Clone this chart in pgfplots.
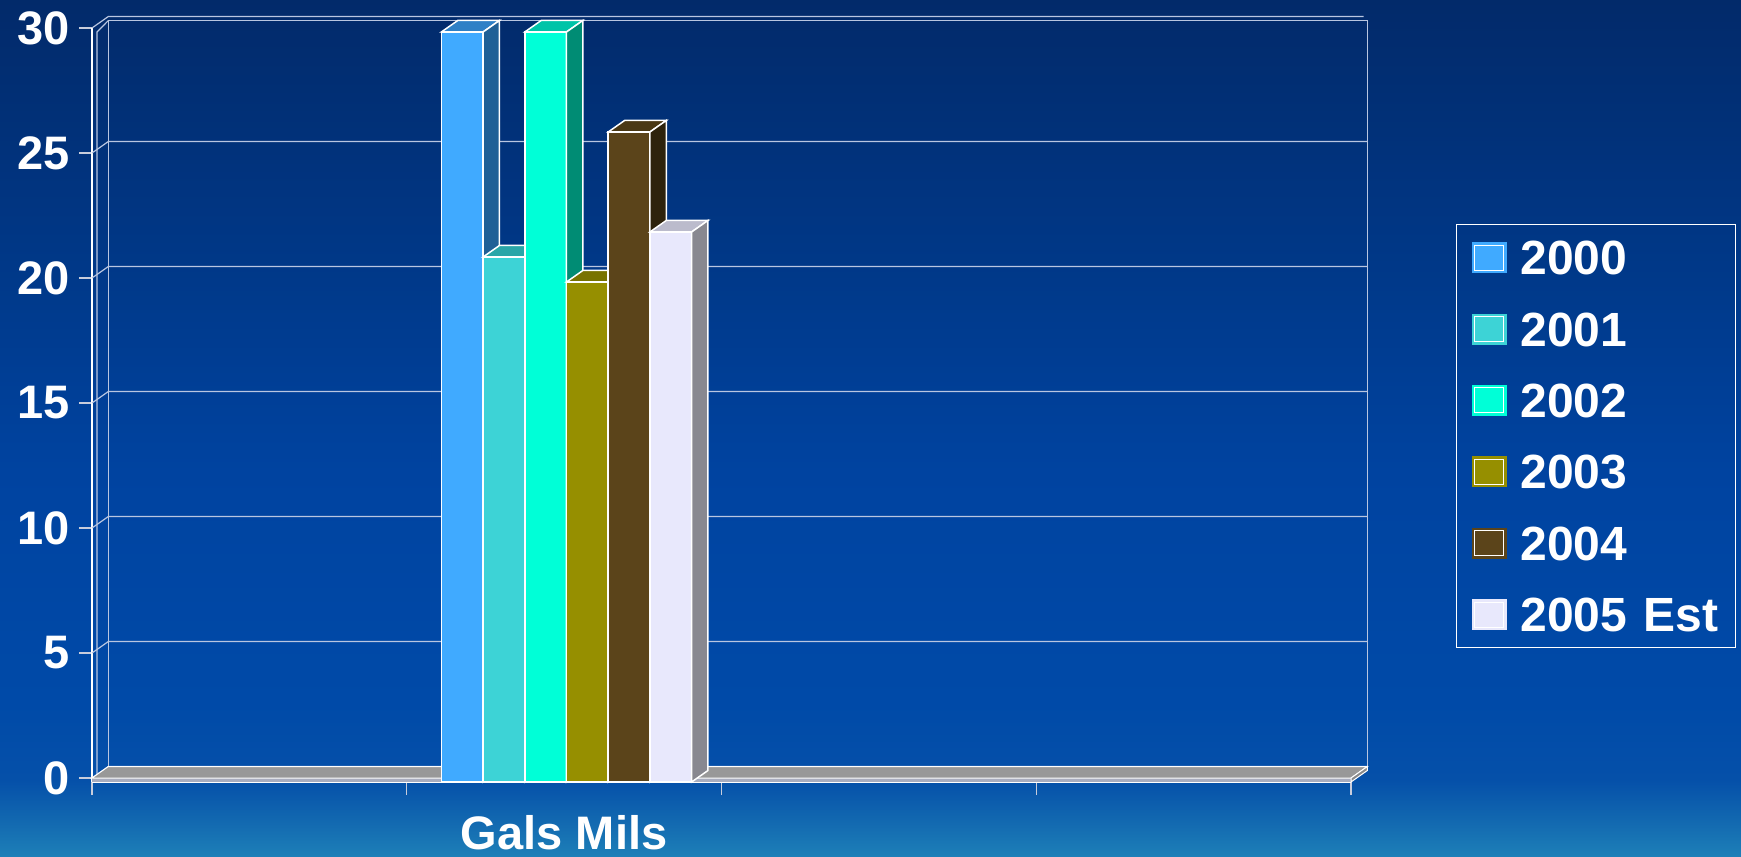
\documentclass[border=0pt]{standalone}
\usepackage{pgfplots}
\pgfplotsset{compat=1.18}
\usepackage{fontspec}
\setmainfont{Liberation Sans}

\definecolor{bg0}{HTML}{1E80B8}
\definecolor{bg1}{HTML}{1268B0}
\definecolor{bg2}{HTML}{0550A9}
\definecolor{bg3}{HTML}{004AA8}
\definecolor{bg4}{HTML}{0043A0}
\definecolor{bg5}{HTML}{003A8C}
\definecolor{bg6}{HTML}{022A6A}
\pgfdeclareverticalshading{bgshade}{100bp}{color(0bp)=(bg0); color(25bp)=(bg0); color(27.15bp)=(bg1); color(29.5bp)=(bg2); color(34bp)=(bg3); color(47.5bp)=(bg4); color(57.5bp)=(bg5); color(75bp)=(bg6); color(100bp)=(bg6)}

\definecolor{gridcol}{RGB}{185,198,225}
\definecolor{tickcol}{RGB}{200,205,220}
\definecolor{floortop}{HTML}{989898}
\definecolor{floorfront}{HTML}{A9ADBF}
\definecolor{floorend}{HTML}{8A8A8A}
% bar colours: front, top, side
\definecolor{aF}{HTML}{40AAFF}\definecolor{aT}{HTML}{2F80C6}\definecolor{aS}{HTML}{206096}
\definecolor{bF}{HTML}{3DD3D6}\definecolor{bT}{HTML}{2AA6A8}\definecolor{bS}{HTML}{1E7C7E}
\definecolor{cF}{HTML}{00FFD7}\definecolor{cT}{HTML}{00C4A8}\definecolor{cS}{HTML}{008C74}
\definecolor{dF}{HTML}{968F00}\definecolor{dT}{HTML}{787300}\definecolor{dS}{HTML}{5F5A00}
\definecolor{eF}{HTML}{5B441A}\definecolor{eT}{HTML}{4A3814}\definecolor{eS}{HTML}{2E230C}
\definecolor{fF}{HTML}{E8E8FC}\definecolor{fT}{HTML}{BBBBCC}\definecolor{fS}{HTML}{888890}

\begin{document}
\begin{tikzpicture}
\shade[shading=bgshade] (0,0) rectangle (870.5pt,428.5pt);
\begin{axis}[
  at={(46pt,37.5pt)}, anchor=south west,
  scale only axis, width=629.5pt, height=377pt,
  xmin=0, xmax=4, ymin=0, ymax=30.16,
  clip=false, no markers,
  axis x line*=bottom, axis y line*=left,
  axis line style={white, line width=0.6pt, -},
  xtick={0,1,2,3,4}, xticklabels={},
  extra x ticks={1.5}, extra x tick labels={Gals Mils},
  extra x tick style={tick style={draw=none}, xticklabel style={yshift=-6.5pt}},
  ytick={0.16,5.16,10.16,15.16,20.16,25.16,30.16},
  yticklabels={0,5,10,15,20,25,30},
  tick align=outside, major tick length=6.5pt,
  tick style={color=tickcol, line width=0.6pt},
  every tick label/.append style={font=\fontsize{23.5}{28}\selectfont\bfseries, text=white},
  yticklabel style={inner sep=0pt, xshift=-4.5pt},
  legend cell align=left,
  legend image code/.code={\fill[#1,draw=none] (0pt,-7.75pt) rectangle (17.5pt,7.75pt);
     \draw[draw=white,fill=none,line width=0.5pt] (1.5pt,-6.25pt) rectangle (16pt,6.25pt);},
  legend style={at={(1.0834,0.740)}, anchor=north west, draw=white, line width=0.6pt,
     fill=none, text=white, font=\fontsize{24}{28}\selectfont\bfseries,
     inner xsep=7.5pt, inner ysep=8pt, row sep=18.7pt,
     /tikz/every odd column/.append style={column sep=7pt},
     nodes={inner sep=0pt, text height=17pt, text depth=0pt, text width=100pt}},
]
% back-wall gridlines with their side-wall diagonals
\addplot[forget plot, gridcol, line width=0.6pt] coordinates {(0,0.16) (0.052,0.62) (4.052,0.62)};
\addplot[forget plot, gridcol, line width=0.6pt] coordinates {(0,5.16) (0.052,5.62) (4.052,5.62)};
\addplot[forget plot, gridcol, line width=0.6pt] coordinates {(0,10.16) (0.052,10.62) (4.052,10.62)};
\addplot[forget plot, gridcol, line width=0.6pt] coordinates {(0,15.16) (0.052,15.62) (4.052,15.62)};
\addplot[forget plot, gridcol, line width=0.6pt] coordinates {(0,20.16) (0.052,20.62) (4.052,20.62)};
\addplot[forget plot, gridcol, line width=0.6pt] coordinates {(0,25.16) (0.052,25.62) (4.052,25.62)};
\addplot[forget plot, gridcol, line width=0.6pt] coordinates {(0,30.16) (0.052,30.62) (4.04,30.62)};
% walls
\addplot[forget plot, gridcol, line width=0.6pt] coordinates {(0.052,0.62) (0.052,30.46) (4.052,30.46) (4.052,0.62)};
\addplot[forget plot, gridcol, line width=0.6pt] coordinates {(0.016,0.06) (0.016,30.0) (0.052,30.46)};
% floor
\addplot[forget plot, fill=floorfront, draw=none] coordinates {(0,0) (4,0) (4,0.16) (0,0.16)} -- cycle;
\addplot[forget plot, fill=floortop, draw=white, line width=0.5pt] coordinates {(0,0.16) (4,0.16) (4.052,0.62) (0.052,0.62)} -- cycle;
\addplot[forget plot, fill=floorend, draw=white, line width=0.5pt] coordinates {(4,0) (4.052,0.46) (4.052,0.62) (4,0.16)} -- cycle;

% 2000 = 30
\addplot[fill=aF, draw=white, line width=0.75pt] coordinates {(1.11,0) (1.2425,0) (1.2425,30) (1.11,30)} -- cycle;
\addlegendentry{2000}
\addplot[forget plot, fill=aT, draw=white, line width=0.75pt] coordinates {(1.11,30) (1.2425,30) (1.2945,30.46) (1.162,30.46)} -- cycle;
\addplot[forget plot, fill=aS, draw=white, line width=0.75pt] coordinates {(1.2425,0) (1.2945,0.46) (1.2945,30.46) (1.2425,30)} -- cycle;
% 2001 = 21
\addplot[fill=bF, draw=white, line width=0.75pt] coordinates {(1.2425,0) (1.375,0) (1.375,21) (1.2425,21)} -- cycle;
\addlegendentry{2001}
\addplot[forget plot, fill=bT, draw=white, line width=0.75pt] coordinates {(1.2425,21) (1.375,21) (1.427,21.46) (1.2945,21.46)} -- cycle;
\addplot[forget plot, fill=bS, draw=white, line width=0.75pt] coordinates {(1.375,0) (1.427,0.46) (1.427,21.46) (1.375,21)} -- cycle;
% 2002 = 30
\addplot[fill=cF, draw=white, line width=0.75pt] coordinates {(1.375,0) (1.5075,0) (1.5075,30) (1.375,30)} -- cycle;
\addlegendentry{2002}
\addplot[forget plot, fill=cT, draw=white, line width=0.75pt] coordinates {(1.375,30) (1.5075,30) (1.5595,30.46) (1.427,30.46)} -- cycle;
\addplot[forget plot, fill=cS, draw=white, line width=0.75pt] coordinates {(1.5075,0) (1.5595,0.46) (1.5595,30.46) (1.5075,30)} -- cycle;
% 2003 = 20
\addplot[fill=dF, draw=white, line width=0.75pt] coordinates {(1.5075,0) (1.64,0) (1.64,20) (1.5075,20)} -- cycle;
\addlegendentry{2003}
\addplot[forget plot, fill=dT, draw=white, line width=0.75pt] coordinates {(1.5075,20) (1.64,20) (1.692,20.46) (1.5595,20.46)} -- cycle;
\addplot[forget plot, fill=dS, draw=white, line width=0.75pt] coordinates {(1.64,0) (1.692,0.46) (1.692,20.46) (1.64,20)} -- cycle;
% 2004 = 26
\addplot[fill=eF, draw=white, line width=0.75pt] coordinates {(1.64,0) (1.7725,0) (1.7725,26) (1.64,26)} -- cycle;
\addlegendentry{2004}
\addplot[forget plot, fill=eT, draw=white, line width=0.75pt] coordinates {(1.64,26) (1.7725,26) (1.8245,26.46) (1.692,26.46)} -- cycle;
\addplot[forget plot, fill=eS, draw=white, line width=0.75pt] coordinates {(1.7725,0) (1.8245,0.46) (1.8245,26.46) (1.7725,26)} -- cycle;
% 2005 Est = 22
\addplot[fill=fF, draw=white, line width=0.75pt] coordinates {(1.7725,0) (1.905,0) (1.905,22) (1.7725,22)} -- cycle;
\addlegendentry{2005 Est}
\addplot[forget plot, fill=fT, draw=white, line width=0.75pt] coordinates {(1.7725,22) (1.905,22) (1.957,22.46) (1.8245,22.46)} -- cycle;
\addplot[forget plot, fill=fS, draw=white, line width=0.75pt] coordinates {(1.905,0) (1.957,0.46) (1.957,22.46) (1.905,22)} -- cycle;
\end{axis}
\pgfresetboundingbox
\path[use as bounding box] (0,0) rectangle (870.5pt,428.5pt);
\end{tikzpicture}
\end{document}
